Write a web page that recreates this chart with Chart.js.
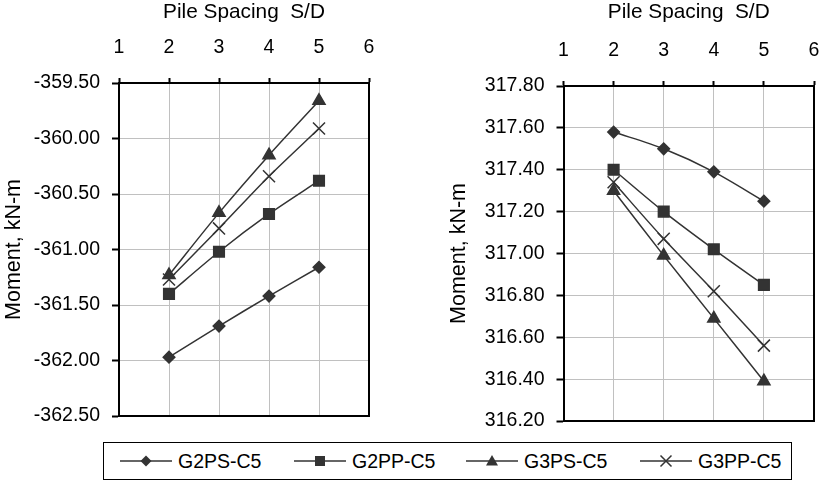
<!DOCTYPE html>
<html>
<head>
<meta charset="utf-8">
<script src="https://cdn.jsdelivr.net/npm/chart.js@4/dist/chart.umd.min.js"></script>
<style>
  html, body { margin: 0; padding: 0; background: #fff; }
  body { width: 824px; height: 481px; position: relative; overflow: hidden; font-family: "Liberation Sans", Arial, sans-serif; }
  .panel { position: absolute; top: 0; width: 412px; height: 440px; }
  #legend { position: absolute; left: 103px; top: 442px; width: 687px; height: 36px; border: 1.5px solid #000; box-sizing: content-box; }
  .item { position: absolute; top: 0; height: 36px; display: flex; align-items: center; font-size: 19.5px; color: #000; }
  .item svg { margin-right: 6px; }
</style>
</head>
<body>
<div class="panel" style="left:0"><canvas id="c1" width="412" height="440"></canvas></div>
<div class="panel" style="left:412px"><canvas id="c2" width="412" height="440"></canvas></div>
<div id="legend"></div>
<script>
// ---- data ----
const xValues = [2, 3, 4, 5];
const seriesNames = ['G2PS-C5', 'G2PP-C5', 'G3PS-C5', 'G3PP-C5'];
const pointStyles = ['rectRot', 'rect', 'triangle', 'crossRot'];
const pointSizes = [5.8, 7.5, 7, 8.5];

const leftG2PS = [-361.97, -361.69, -361.42, -361.16];
const leftG2PP = [-361.40, -361.02, -360.68, -360.38];
const leftG3PS = [-361.23, -360.67, -360.15, -359.66];
const leftG3PP = [-361.27, -360.81, -360.34, -359.91];

const rightG2PS = [317.58, 317.50, 317.39, 317.25];
const rightG2PP = [317.40, 317.20, 317.02, 316.85];
const rightG3PS = [317.30, 316.99, 316.69, 316.39];
const rightG3PP = [317.34, 317.07, 316.82, 316.56];

const xTitle = 'Pile Spacing  S/D';
const yTitle = 'Moment, kN-m';
const xMin = 1, xMax = 6, xStep = 1;
const leftYMin = -362.5, leftYMax = -359.5, leftYStep = 0.5;
const rightYMin = 316.2, rightYMax = 317.8, rightYStep = 0.2;

// ---- styling ----
const FONT = '"Liberation Sans", Arial, sans-serif';
const INK = '#333333';
const GRID = '#c0c0c0';

function makeDatasets(seriesArrays) {
  return seriesArrays.map((vals, i) => ({
    label: seriesNames[i],
    data: xValues.map((x, j) => ({ x: x, y: vals[j] })),
    borderColor: INK,
    backgroundColor: INK,
    borderWidth: 1.5,
    pointStyle: pointStyles[i],
    pointRadius: pointSizes[i],
    pointHoverRadius: pointSizes[i],
    pointBackgroundColor: INK,
    pointBorderColor: INK,
    pointBorderWidth: 1.5,
    tension: 0.3,
    clip: false
  }));
}

function fixPad(s) { s.paddingLeft = 0; s.paddingRight = 0; s.paddingTop = 0; s.paddingBottom = 0; }

function makeChart(id, seriesArrays, yMin, yMax, yStep, dims) {
  return new Chart(document.getElementById(id), {
    type: 'line',
    data: { datasets: makeDatasets(seriesArrays) },
    options: {
      responsive: false,
      animation: false,
      events: [],
      layout: { padding: 0 },
      plugins: { legend: { display: false }, tooltip: { enabled: false } },
      scales: {
        x: {
          type: 'linear', position: 'top', min: xMin, max: xMax,
          afterFit: s => { s.height = dims.top; fixPad(s); },
          ticks: { stepSize: xStep, color: '#000', padding: dims.xPad, font: { family: FONT, size: 19.5 } },
          grid: { color: GRID, lineWidth: 1, tickColor: '#000', tickLength: 5, tickWidth: 2 },
          border: { color: '#000', width: 2 },
          title: { display: true, text: xTitle, color: '#000', font: { family: FONT, size: 20.8 }, padding: { top: 0, bottom: 0 } }
        },
        y: {
          type: 'linear', position: 'left', min: yMin, max: yMax,
          afterFit: s => { s.width = dims.left; fixPad(s); },
          ticks: { stepSize: yStep, color: '#000', padding: 12, font: { family: FONT, size: 19.5 },
                   callback: v => Number(v).toFixed(2) },
          grid: { color: GRID, lineWidth: 1, tickColor: '#000', tickLength: 7, tickWidth: 2 },
          border: { color: '#000', width: 2 },
          title: { display: true, text: yTitle, color: '#000', font: { family: FONT, size: 21.5 }, padding: { top: dims.yTitlePad, bottom: 0 } }
        },
        x2: {
          type: 'linear', position: 'bottom', min: xMin, max: xMax,
          afterFit: s => { s.height = dims.bottom; fixPad(s); },
          ticks: { display: false },
          grid: { display: false, drawOnChartArea: false, drawTicks: false },
          border: { display: true, color: '#000', width: 2 }
        },
        y2: {
          type: 'linear', position: 'right', min: yMin, max: yMax,
          afterFit: s => { s.width = dims.right; fixPad(s); },
          ticks: { display: false },
          grid: { display: false, drawOnChartArea: false, drawTicks: false },
          border: { display: true, color: '#000', width: 2 }
        }
      }
    }
  });
}

makeChart('c1', [leftG2PS, leftG2PP, leftG3PS, leftG3PP], leftYMin, leftYMax, leftYStep,
  { top: 83, bottom: 24, left: 119, right: 43, xPad: 19, yTitlePad: 1.5 });
makeChart('c2', [rightG2PS, rightG2PP, rightG3PS, rightG3PP], rightYMin, rightYMax, rightYStep,
  { top: 86, bottom: 19, left: 151.5, right: 10, xPad: 19, yTitlePad: 34.5 });

// ---- legend ----
const legendX = [16, 190, 362, 536];
function markerSvg(style) {
  const c = INK;
  let m = '';
  if (style === 'rectRot') m = `<polygon points="26,1.5 31.5,7 26,12.5 20.5,7" fill="${c}"/>`;
  else if (style === 'rect') m = `<rect x="21" y="2" width="10" height="10" fill="${c}"/>`;
  else if (style === 'triangle') m = `<polygon points="26,1 32,11.5 20,11.5" fill="${c}"/>`;
  else m = `<path d="M20.5,1.5 L31.5,12.5 M31.5,1.5 L20.5,12.5" stroke="${c}" stroke-width="1.5"/>`;
  return `<svg width="52" height="14" viewBox="0 0 52 14"><line x1="0" y1="7" x2="52" y2="7" stroke="${c}" stroke-width="1.5"/>${m}</svg>`;
}
const legend = document.getElementById('legend');
seriesNames.forEach((name, i) => {
  const d = document.createElement('div');
  d.className = 'item';
  d.style.left = legendX[i] + 'px';
  d.innerHTML = markerSvg(pointStyles[i]) + '<span>' + name + '</span>';
  legend.appendChild(d);
});
</script>
</body>
</html>
